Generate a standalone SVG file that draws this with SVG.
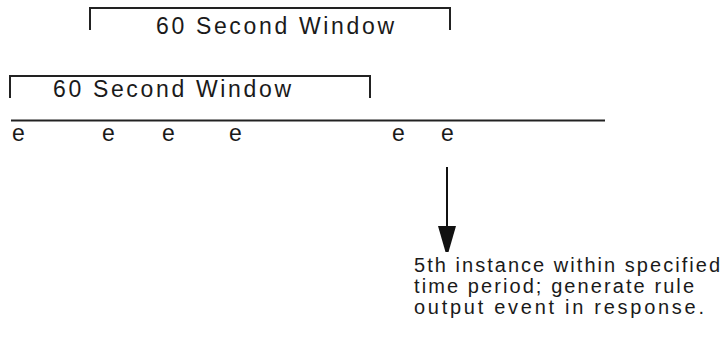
<svg xmlns="http://www.w3.org/2000/svg" width="724" height="339" viewBox="0 0 724 339">
<style>
.t{font-family:"Liberation Sans",Arial,sans-serif;fill:#1a1a1a}
.w{font-size:23px}
.e{font-size:23px}
.n{font-size:20px}
.br{fill:none;stroke:#222;stroke-width:2}
</style>
<rect width="724" height="339" fill="#fff"/>
<g id="window-top">
<path class="br" d="M90,30 V8 H450 V30"/>
<text class="t w" x="156" y="34" textLength="238" lengthAdjust="spacing">60 Second Window</text>
</g>
<g id="window-bottom">
<path class="br" d="M10,98 V76 H370 V98"/>
<text class="t w" x="53" y="97" textLength="238" lengthAdjust="spacing">60 Second Window</text>
</g>
<g id="timeline">
<line x1="11" y1="120.5" x2="605" y2="120.5" stroke="#222" stroke-width="2"/>
</g>
<g id="events">
<text class="t e" x="12" y="141">e</text>
<text class="t e" x="102" y="141">e</text>
<text class="t e" x="162" y="141">e</text>
<text class="t e" x="229" y="141">e</text>
<text class="t e" x="392" y="141">e</text>
<text class="t e" x="441" y="141">e</text>
</g>
<g id="connectors">
<line x1="447" y1="167" x2="447" y2="230" stroke="#111" stroke-width="2"/>
<polygon points="438,226 456,226 448.5,252 445.5,252" fill="#111"/>
</g>
<g id="note">
<text class="t n" x="414" y="272" textLength="306" lengthAdjust="spacing">5th instance within specified</text>
<text class="t n" x="414" y="293" textLength="280" lengthAdjust="spacing">time period; generate rule</text>
<text class="t n" x="414" y="314" textLength="290" lengthAdjust="spacing">output event in response.</text>
</g>
</svg>
